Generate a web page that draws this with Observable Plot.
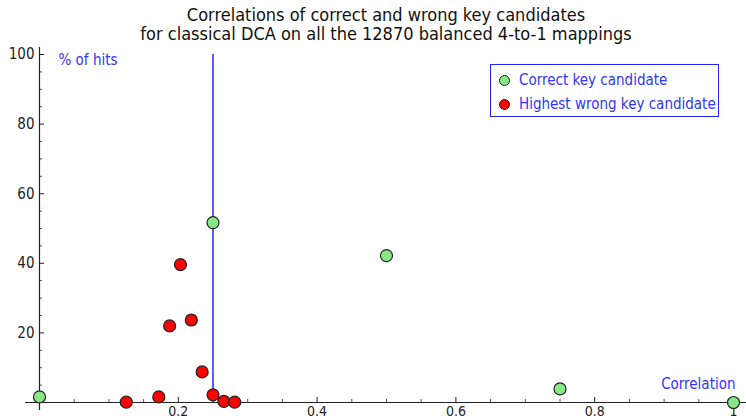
<!DOCTYPE html>
<html>
<head>
<meta charset="utf-8">
<script src="https://cdn.jsdelivr.net/npm/d3@7"></script>
<script src="https://cdn.jsdelivr.net/npm/@observablehq/plot@0.6"></script>
<style>
  html, body { margin: 0; padding: 0; background: #fff; }
  #wrap { position: relative; width: 746px; height: 420px; font-family: "DejaVu Sans Condensed", "DejaVu Sans", sans-serif; font-stretch: condensed; }
  #title { position: absolute; left: 39px; width: 694px; top: 5px; text-align: center; font-size: 18px; line-height: 19px; color: #111; }
  #legend { position: absolute; left: 490px; top: 64px; width: 227px; height: 51px; border: 1px solid #2222ff; }
  .item { position: absolute; left: 0; height: 20px; display: flex; align-items: center; font-size: 15px; color: #3333ff; white-space: nowrap; }
  .sw { width: 9px; height: 9px; border-radius: 50%; border: 1.3px solid #222; margin-left: 8px; margin-right: 9px; }
  #chart { position: absolute; left: 0; top: 44px; }
</style>
</head>
<body>
<div id="wrap">
  <div id="title"></div>
  <div id="chart"></div>
  <div id="legend"></div>
</div>
<script>
// ---- data ----
const titleLines = ["Correlations of correct and wrong key candidates", "for classical DCA on all the 12870 balanced 4-to-1 mappings"];
const seriesNames = ["Correct key candidate", "Highest wrong key candidate"];
const seriesColors = ["#88e888", "#ff0000"];
const correctX = [0, 0.25, 0.5, 0.75, 1];
const correctY = [1.6, 51.7, 42.2, 3.9, 0];
const wrongX = [0.125, 0.171875, 0.1875, 0.203125, 0.21875, 0.234375, 0.25, 0.265625, 0.28125];
const wrongY = [0.1, 1.6, 22.0, 39.6, 23.7, 8.8, 2.2, 0.3, 0.1];
const thresholdX = [0.25];
const xMajor = [0.2, 0.4, 0.6, 0.8, 1];
const xMajorLabels = ["0.2", "0.4", "0.6", "0.8", "1"];
const xMinor = [0.05, 0.1, 0.15, 0.25, 0.3, 0.35, 0.45, 0.5, 0.55, 0.65, 0.7, 0.75, 0.85, 0.9, 0.95];
const yMajor = [20, 40, 60, 80, 100];
const yMajorLabels = ["20", "40", "60", "80", "100"];
const yMinor = [5, 10, 15, 25, 30, 35, 45, 50, 55, 65, 70, 75, 85, 90, 95];
const xLabel = "Correlation";
const yLabel = "% of hits";

// ---- build ----
document.getElementById("title").innerHTML = titleLines.map(t => `<div>${t}</div>`).join("");
const legend = document.getElementById("legend");
seriesNames.forEach((name, i) => {
  const el = document.createElement("div");
  el.className = "item";
  el.style.top = (5 + i * 24) + "px";
  el.innerHTML = `<span class="sw" style="background:${seriesColors[i]}"></span><span>${name}</span>`;
  legend.appendChild(el);
});

const correct = correctX.map((x, i) => ({x, y: correctY[i]}));
const wrong = wrongX.map((x, i) => ({x, y: wrongY[i]}));

const W = 746, H = 376, mL = 39, mR = 13, mT = 10, mB = 18;
const pxX = (W - mL - mR);       // px per unit x
const pxY = (H - mT - mB) / 100;  // px per unit y
const axisColor = "#222";
const font = `"DejaVu Sans Condensed", "DejaVu Sans", sans-serif`;

const plot = Plot.plot({
  width: W, height: H,
  marginLeft: mL, marginRight: mR, marginTop: mT, marginBottom: mB,
  x: {domain: [0, 1], axis: null},
  y: {domain: [0, 100], axis: null},
  style: {fontFamily: font, fontSize: "15px", overflow: "visible"},
  marks: [
    // axis lines
    Plot.ruleY([0], {x1: -14 / pxX, x2: 1 + 13 / pxX, stroke: axisColor, strokeWidth: 1.2}),
    Plot.ruleX([0], {y1: -8 / pxY, y2: 100 + 7 / pxY, stroke: axisColor, strokeWidth: 1.2}),
    // x ticks
    Plot.ruleX(xMajor, {y1: 0, y2: 5 / pxY, stroke: axisColor, strokeWidth: 1}),
    Plot.ruleX(xMinor, {y1: 0, y2: 3 / pxY, stroke: axisColor, strokeWidth: 0.8}),
    Plot.text(xMajor, {x: d => d, y: 0, text: (d, i) => xMajorLabels[i], dy: 9, lineAnchor: "middle", fill: axisColor, fontSize: 14}),
    // y ticks
    Plot.ruleY(yMajor, {x1: 0, x2: 5 / pxX, stroke: axisColor, strokeWidth: 1}),
    Plot.ruleY(yMinor, {x1: 0, x2: 3 / pxX, stroke: axisColor, strokeWidth: 0.8}),
    Plot.text(yMajor, {x: 0, y: d => d, text: (d, i) => yMajorLabels[i], dx: -5, textAnchor: "end", lineAnchor: "middle", fill: axisColor, fontSize: 15}),
    // axis labels
    Plot.text([yLabel], {frameAnchor: "top-left", dx: 19, dy: 6, textAnchor: "start", lineAnchor: "middle", fill: "#3333ff", fontSize: 15}),
    Plot.text([xLabel], {frameAnchor: "bottom-right", dx: 2, dy: -18, textAnchor: "end", lineAnchor: "middle", fill: "#3333ff", fontSize: 15}),
    // threshold line
    Plot.ruleX(thresholdX, {y1: 0, y2: 100, stroke: "#5a5aff", strokeWidth: 2}),
    // points
    Plot.dot(correct, {x: "x", y: "y", r: 6, fill: seriesColors[0], stroke: "#222", strokeWidth: 1.2}),
    Plot.dot(wrong, {x: "x", y: "y", r: 6, fill: seriesColors[1], stroke: "#222", strokeWidth: 1.2})
  ]
});
document.getElementById("chart").appendChild(plot);
</script>
</body>
</html>
